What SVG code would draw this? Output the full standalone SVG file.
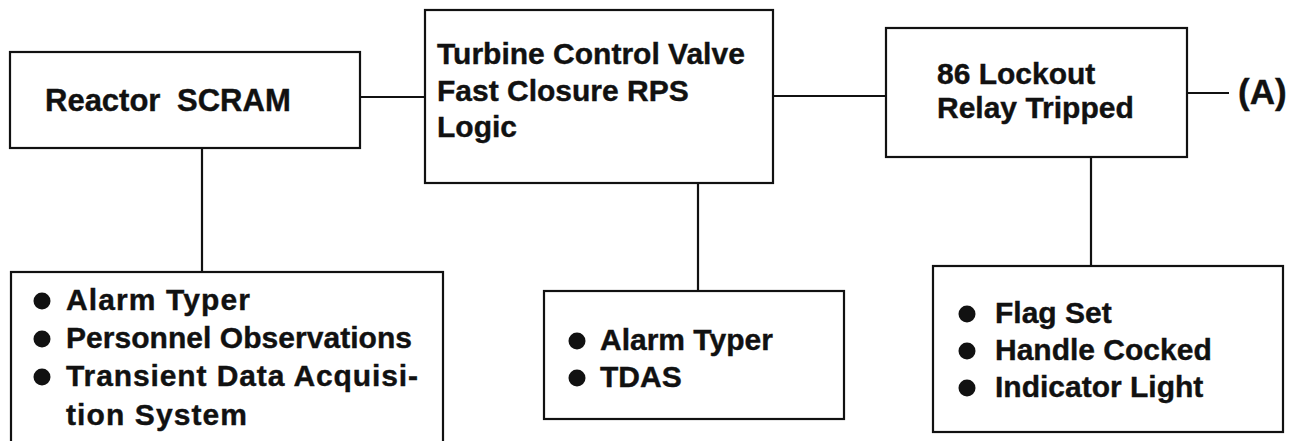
<svg xmlns="http://www.w3.org/2000/svg" width="1315" height="441" viewBox="0 0 1315 441">
<style>
.box{fill:#fff;stroke:#111;stroke-width:2.2}
.ln{stroke:#111;stroke-width:2.2;fill:none}
.t{font-family:"Liberation Sans",Arial,Helvetica,sans-serif;font-weight:bold;font-size:30px;fill:#111;stroke:#111;stroke-width:0.4}
.b{fill:#111}
</style>
<rect width="1315" height="441" fill="#fff"/>
<g id="connectors">
<line class="ln" x1="360" y1="97" x2="425" y2="97"/>
<line class="ln" x1="773" y1="96" x2="886" y2="96"/>
<line class="ln" x1="1187" y1="93" x2="1229" y2="93"/>
<line class="ln" x1="202" y1="148" x2="202" y2="272"/>
<line class="ln" x1="698" y1="183" x2="698" y2="291"/>
<line class="ln" x1="1091" y1="157" x2="1091" y2="266"/>
</g>
<g id="reactor-scram">
<rect class="box" x="10" y="52" width="350" height="96"/>
<text class="t" x="45" y="111" style="font-size:31px;word-spacing:8px">Reactor SCRAM</text>
</g>
<g id="turbine-logic">
<rect class="box" x="425" y="10" width="348" height="173"/>
<text class="t" x="437" y="64">Turbine Control Valve</text>
<text class="t" x="437" y="101">Fast Closure RPS</text>
<text class="t" x="437" y="137">Logic</text>
</g>
<g id="lockout-relay">
<rect class="box" x="886" y="28" width="301" height="129"/>
<text class="t" x="937" y="84">86 Lockout</text>
<text class="t" x="937" y="118">Relay Tripped</text>
</g>
<g id="label-a">
<text class="t" x="1238" y="104" style="font-size:35px">(A)</text>
</g>
<g id="scram-evidence">
<rect class="box" x="11" y="272" width="432" height="190"/>
<circle class="b" cx="42" cy="301" r="8.5"/>
<circle class="b" cx="42" cy="339" r="8.5"/>
<circle class="b" cx="42" cy="377" r="8.5"/>
<text class="t" x="66" y="310" textLength="184" lengthAdjust="spacing">Alarm Typer</text>
<text class="t" x="66" y="348" textLength="346" lengthAdjust="spacing">Personnel Observations</text>
<text class="t" x="66" y="386" textLength="352" lengthAdjust="spacing">Transient Data Acquisi-</text>
<text class="t" x="66" y="425" textLength="181" lengthAdjust="spacing">tion System</text>
</g>
<g id="logic-evidence">
<rect class="box" x="544" y="291" width="300" height="128"/>
<circle class="b" cx="577" cy="341" r="8.5"/>
<circle class="b" cx="577" cy="378" r="8.5"/>
<text class="t" x="600" y="350">Alarm Typer</text>
<text class="t" x="600" y="387">TDAS</text>
</g>
<g id="relay-evidence">
<rect class="box" x="933" y="266" width="350" height="166"/>
<circle class="b" cx="967" cy="314" r="8.5"/>
<circle class="b" cx="967" cy="351" r="8.5"/>
<circle class="b" cx="967" cy="388" r="8.5"/>
<text class="t" x="995" y="323">Flag Set</text>
<text class="t" x="995" y="360">Handle Cocked</text>
<text class="t" x="995" y="397">Indicator Light</text>
</g>
</svg>
